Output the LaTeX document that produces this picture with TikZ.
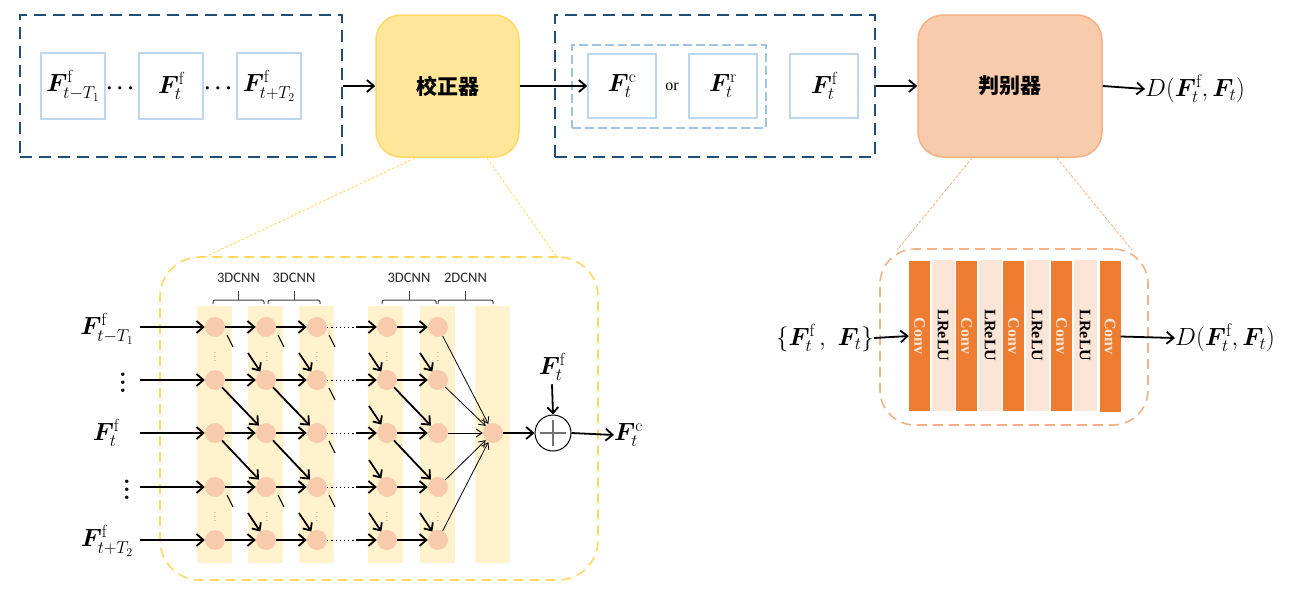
\documentclass[tikz,border=0pt]{standalone}
\usepackage{amsmath}
\usepackage{bm}
\usepackage{fontspec}
\newfontfamily\cjkfont{Noto Sans CJK SC}
\newfontfamily\calfont{Carlito}
\newfontfamily\timesfont{Liberation Serif}
\usetikzlibrary{arrows.meta}
\definecolor{dkblue}{HTML}{1F4E79}
\definecolor{ltblue}{HTML}{BDD7EE}
\definecolor{midblue}{HTML}{9DC3E6}
\definecolor{corrfill}{HTML}{FFE699}
\definecolor{corrline}{HTML}{FFD966}
\definecolor{discfill}{HTML}{F8CBAD}
\definecolor{discline}{HTML}{F4B183}
\definecolor{stripecol}{HTML}{FFF2CC}
\definecolor{convcol}{HTML}{ED7D31}
\definecolor{lrelucol}{HTML}{FBE5D6}
\newcommand\mlab{\fontsize{25}{28}\selectfont}
\newcommand\Ffr{\bm{F}^{\mathrm{f}}}
\newcommand\myvdots{\vbox{\baselineskip=8pt\lineskiplimit=0pt\hbox{\textbf{.}}\hbox{\textbf{.}}\hbox{\textbf{.}}}}
\begin{document}
\begin{tikzpicture}[x=1pt,y=-1pt,
  obox/.style={draw=dkblue, line width=2pt, dash pattern=on 12pt off 7pt, inner sep=0pt},
  fbox/.style={draw=ltblue, line width=1.5pt, minimum width=64pt, minimum height=66pt, inner sep=0pt},
  ibox/.style={draw=midblue, line width=1.8pt, dash pattern=on 9pt off 4pt, inner sep=0pt},
  arr/.style={line width=1.8pt, -{Straight Barb[length=7pt,width=12pt]}},
  garr/.style={line width=1.8pt, -{Straight Barb[length=6pt,width=11pt]}},
  thinarr/.style={line width=0.8pt, -{Straight Barb[length=6pt,width=8pt]}},
  stub/.style={line width=0.9pt},
  stripe/.style={fill=stripecol, minimum width=35pt, minimum height=257pt, inner sep=0pt},
  neuron/.style={circle, fill=discfill, minimum size=20pt, inner sep=0pt},
  vd/.style={font=\fontsize{8}{8}\selectfont, inner sep=0pt},
  bigvd/.style={font=\fontsize{24}{24}\selectfont, inner sep=0pt},
  brk/.style={line width=1pt, black!75, rounded corners=2pt},
  brklab/.style={font=\calfont\fontsize{14.5}{14.5}\selectfont, text=black!85},
  convb/.style={fill=convcol, minimum width=21pt, minimum height=150pt, inner sep=0pt},
  lrb/.style={fill=lrelucol, minimum width=23pt, minimum height=151pt, inner sep=0pt},
  convt/.style={rotate=-90, font=\timesfont\bfseries\fontsize{16}{16}\selectfont, text=lrelucol},
  lrt/.style={rotate=-90, font=\timesfont\bfseries\fontsize{16}{16}\selectfont, text=black},
  zoomy/.style={draw=corrline, line width=0.8pt, dash pattern=on 3pt off 1.5pt},
  zoomo/.style={draw=discline, line width=0.8pt, dash pattern=on 3pt off 1.5pt}]
\useasboundingbox (0,0) rectangle (1296,600);

% ---------------- top row ----------------
\node[obox, minimum width=322pt, minimum height=142pt] (inbox) at (181,86) {};
\node[fbox] (f1) at (73,86) {\mlab$\Ffr_{t-T_1}$};
\node (d1) at (122,89) {\fontsize{20}{20}\selectfont$\bm{\cdots}$};
\node[fbox] (f2) at (171,86) {\mlab$\Ffr_{t}$};
\node (d2) at (220,89) {\fontsize{20}{20}\selectfont$\bm{\cdots}$};
\node[fbox] (f3) at (269,86) {\mlab$\Ffr_{t+T_2}$};

\node[draw=corrline, fill=corrfill, line width=1.5pt, rounded corners=25pt,
      minimum width=143pt, minimum height=142pt] (corr) at (447.5,86)
      {\cjkfont\bfseries\fontsize{21}{21}\selectfont 校正器};

\node[obox, minimum width=320pt, minimum height=142pt] (midbox) at (715,86) {};
\node[ibox, minimum width=194pt, minimum height=83pt] (orbox) at (669,86.5) {};
\node[fbox, minimum width=68pt, minimum height=64pt] (fc) at (622,86) {\mlab$\bm{F}^{\mathrm{c}}_{t}$};
\node (or) at (672,87) {\timesfont\fontsize{16}{16}\selectfont or};
\node[fbox, minimum width=68pt, minimum height=64pt] (fr) at (723,86) {\mlab$\bm{F}^{\mathrm{r}}_{t}$};
\node[fbox, minimum width=68pt, minimum height=64pt] (ff) at (824,86) {\mlab$\Ffr_{t}$};

\node[draw=discline, fill=discfill, line width=1.5pt, rounded corners=25pt,
      minimum width=184pt, minimum height=142pt] (disc) at (1010,86)
      {\cjkfont\bfseries\fontsize{21}{21}\selectfont 判别器};
\node[anchor=west, inner sep=0pt] (dtop) at (1145,89) {\fontsize{26}{28}\selectfont$D(\Ffr_{t},\bm{F}_t)$};

\draw[arr] (inbox.east) -- (corr.west);
\draw[arr] (corr.east) -- (fc.west);
\draw[arr] (midbox.east) -- (disc.west);
\draw[arr] (disc.east) -- (dtop.west);

% ---------------- zoom lines ----------------
\coordinate (zy1) at (415,158);
\coordinate (zy2) at (205,257);
\coordinate (zy3) at (487,158);
\coordinate (zy4) at (556,256);
\draw[zoomy] (zy1) -- (zy2);
\draw[zoomy] (zy3) -- (zy4);
\coordinate (zo1) at (972,158);
\coordinate (zo2) at (897,250);
\coordinate (zo3) at (1057,158);
\coordinate (zo4) at (1132,250);
\draw[zoomo] (zo1) -- (zo2);
\draw[zoomo] (zo3) -- (zo4);

% ---------------- corrector detail ----------------
\node[draw=corrline, line width=1.6pt, dash pattern=on 10pt off 6pt, rounded corners=40pt,
      minimum width=438pt, minimum height=323pt, inner sep=0pt] (cbox) at (379,418.5) {};

\foreach \i/\x in {1/214,2/265,3/316,4/385,5/437,6/492}
  \node[stripe] (s\i) at (\x,434) {};

\foreach \c/\x in {1/215,2/266,3/317,4/387,5/438}
  \foreach \r/\y in {1/327,2/380,3/433,4/487,5/540}
    \node[neuron] (n\c\r) at (\x,\y) {};
\node[neuron] (nf) at (493,433) {};

% input labels
\node (l1) at (107,329) {\mlab$\Ffr_{t-T_1}$};
\node[bigvd] (l2) at (123,383) {\myvdots};
\node (l3) at (106,433) {\mlab$\Ffr_{t}$};
\node[bigvd] (l4) at (127,490) {\myvdots};
\node (l5) at (107,541) {\mlab$\Ffr_{t+T_2}$};

\foreach \r/\y in {1/327,2/380,3/433,4/487,5/540} {
  \coordinate (st\r) at (140,\y);
  \coordinate (m\r) at (356,\y);
  \draw[arr] (st\r) -- (n1\r);
  \draw[arr] (n1\r) -- (n2\r);
  \draw[arr] (n2\r) -- (n3\r);
  \draw[line width=0.9pt, dash pattern=on 1.2pt off 3pt] (n3\r.east) -- (m\r);
  \draw[arr] (m\r) -- (n4\r);
  \draw[arr] (n4\r) -- (n5\r);
  \draw[thinarr] (n5\r) -- (nf);
}

% diagonal arrows
\foreach \a/\b in {1/2,2/3,4/5}
  \foreach \r/\s in {2/3,3/4}
    \draw[arr] (n\a\r) -- (n\b\s);

% short incoming arrows
\foreach \n in {22,25,32,35,42,43,44,45,52,55} {
  \coordinate (q\n) at ([shift={(-18,-27)}]n\n.center);
  \draw[garr] (q\n) -- (n\n);
}

% stubs
\foreach \n in {11,14,21,24,31,32,33,34} {
  \coordinate (ta\n) at ([shift={(12,8)}]n\n.center);
  \coordinate (tb\n) at ([shift={(18,20)}]n\n.center);
  \draw[stub] (ta\n) -- (tb\n);
}

% vertical dots
\foreach \c/\x in {1/215,2/267,3/317,4/387,5/438} {
  \node[vd] (va\c) at (\x,354) {$\vdots$};
  \node[vd] (vb\c) at (\x,514) {$\vdots$};
}

% brackets
\foreach \k/\a/\b/\lab in {1/213/264/3DCNN,2/268/320/3DCNN,3/382/436/3DCNN,4/438/493/2DCNN} {
  \draw[brk] (\a,304) -- (\a,300) -- (\b,300) -- (\b,304);
  \draw[line width=1pt, black!75] ({(\a+\b)/2},300) -- ({(\a+\b)/2},291);
  \node[brklab] (bl\k) at ({(\a+\b)/2},278) {\lab};
}

% addition
\node[circle, draw, line width=1pt, minimum size=36pt, inner sep=0pt] (plus) at (553,433) {};
\draw[line width=1.5pt, black!55] ([xshift=-13pt]plus.center) -- ([xshift=13pt]plus.center);
\draw[line width=1.5pt, black!55] ([yshift=-13pt]plus.center) -- ([yshift=13pt]plus.center);
\node (fadd) at (552,367) {\mlab$\Ffr_{t}$};
\node[anchor=west, inner sep=0pt] (fcout) at (614,435) {\mlab$\bm{F}^{\mathrm{c}}_{t}$};
\draw[arr] (nf) -- (plus);
\draw[garr] (fadd.south) -- (plus.north);
\draw[arr] (plus.east) -- (fcout.west);

% ---------------- discriminator detail ----------------
\node[draw=discline, line width=1.6pt, dash pattern=on 10pt off 6pt, rounded corners=35pt,
      minimum width=268pt, minimum height=176pt, inner sep=0pt] (dbox) at (1014,337) {};
\node[convb] (c1) at (919.5,336) {};
\node[lrb] (r1) at (943,335.5) {};
\node[convb] (c2) at (966.5,336) {};
\node[lrb] (r2) at (990,335.5) {};
\node[convb] (c3) at (1013.5,336) {};
\node[lrb] (r3) at (1037,335.5) {};
\node[convb] (c4) at (1061.5,336) {};
\node[lrb] (r4) at (1085,335.5) {};
\node[convb, minimum height=151pt] (c5) at (1110,336.5) {};
\foreach \k in {1,...,5} \node[convt] at (c\k) {Conv};
\foreach \k in {1,...,4} \node[lrt] at (r\k) {LReLU};

\node[inner sep=0pt] (din) at (825,338) {\mlab$\{\Ffr_{t}\,,\ \bm{F}_t\}$};
\node[anchor=west, inner sep=0pt] (dout) at (1175,338) {\fontsize{26}{28}\selectfont$D(\Ffr_{t},\bm{F}_t)$};
\draw[arr] (din.east) -- (c1.west);
\draw[arr] (c5.east) -- (dout.west);
\end{tikzpicture}
\end{document}
